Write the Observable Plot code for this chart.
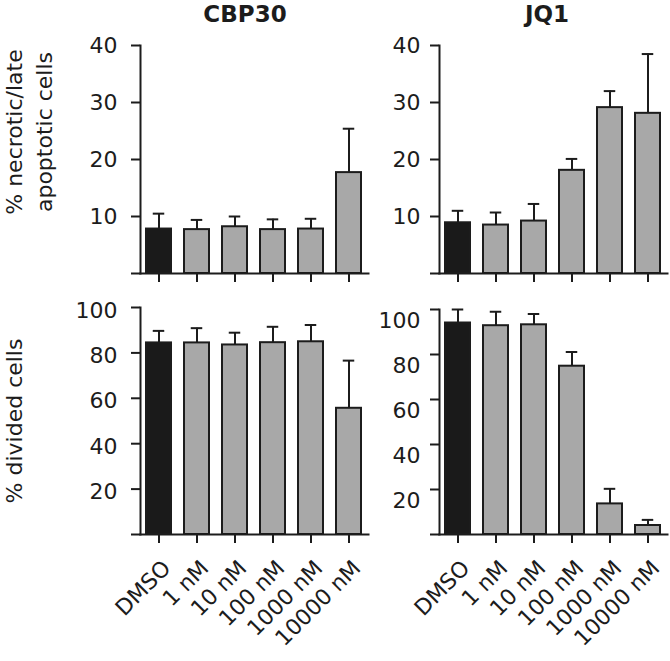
<!DOCTYPE html>
<html>
<head>
<meta charset="utf-8">
<script src="https://cdn.jsdelivr.net/npm/d3@7"></script>
<script src="https://cdn.jsdelivr.net/npm/@observablehq/plot@0.6"></script>
<style>
  body { margin: 0; background: #ffffff; }
  #chart { position: relative; width: 670px; height: 661px; font-family: "DejaVu Sans", sans-serif; }
  #chart svg { position: absolute; left: 0; top: 0; }
</style>
</head>
<body>
<div id="chart"></div>
<script>
// ---- data ----
const categories = ["DMSO", "1 nM", "10 nM", "100 nM", "1000 nM", "10000 nM"];

// % necrotic / late apoptotic cells (mean, upper SEM)
const cbp30Necrotic    = [7.8, 7.7, 8.2, 7.7, 7.8, 17.7];
const cbp30NecroticSem = [2.7, 1.7, 1.8, 1.8, 1.8, 7.7];
const jq1Necrotic      = [8.9, 8.5, 9.2, 18.1, 29.1, 28.1];
const jq1NecroticSem   = [2.1, 2.2, 3.0, 2.0, 2.9, 10.4];

// % divided cells (mean, upper SEM)
const cbp30Divided    = [84.4, 84.4, 83.5, 84.5, 84.9, 55.6];
const cbp30DividedSem = [5.3, 6.5, 5.4, 7.0, 7.4, 21.0];
const jq1Divided      = [94.0, 92.8, 93.2, 74.8, 13.6, 4.0];
const jq1DividedSem   = [6.0, 6.2, 4.8, 6.3, 6.7, 2.5];

const necroticTicks = [0, 10, 20, 30, 40];
const dividedTicks  = [0, 20, 40, 60, 80, 100];

const panelTitles = ["CBP30", "JQ1"];
const yTitleTop = ["% necrotic/late", "apoptotic cells"];
const yTitleBottom = "% divided cells";

// ---- drawing ----
const W = 670, H = 661;
const INK = "#1c1c1c", CONTROL = "#1a1a1a", GREY = "#a8a8a8";

function panel({values, sem, ticks, xLeft, xRight, top, bottom, tickPadding, labelDy, showLabels}) {
  const data = categories.map((c, i) => ({cat: c, value: values[i], upper: values[i] + sem[i], fill: i === 0 ? CONTROL : GREY}));
  return Plot.plot({
    width: W, height: H,
    marginLeft: xLeft, marginRight: W - xRight,
    marginTop: top, marginBottom: H - bottom,
    style: {background: "transparent", fontFamily: "DejaVu Sans, sans-serif", fontSize: "22px", color: INK, overflow: "visible"},
    x: {domain: categories, range: [xLeft, xRight], paddingInner: 0.33, paddingOuter: 0.165, axis: null},
    y: {domain: [ticks[0], ticks[ticks.length - 1]], axis: null},
    color: {type: "identity"},
    marks: [
      Plot.ruleX(data, {x: "cat", y1: "value", y2: "upper", stroke: INK, strokeWidth: 2}),
      Plot.tickY(data, {x: "cat", y: "upper", stroke: INK, strokeWidth: 2, insetLeft: 6.75, insetRight: 6.75}),
      Plot.barY(data, {x: "cat", y: "value", fill: "fill", stroke: INK, strokeWidth: 2}),
      Plot.frame({anchor: "left", stroke: INK, strokeWidth: 2}),
      Plot.frame({anchor: "bottom", stroke: INK, strokeWidth: 2}),
      // y tick marks
      Plot.axisY({ticks, tickSize: 9, strokeWidth: 2, text: null, label: null}),
      // y tick labels (offset as in the reference)
      Plot.axisY({ticks: ticks.filter(d => d !== 0), tickSize: 0, tickPadding: tickPadding + 9,
        fontSize: 22, dy: labelDy, label: null}),
      // x tick marks
      Plot.axisX({tickSize: 9, strokeWidth: 2, label: null, text: null}),
      ...(showLabels ? [Plot.axisX({tickSize: 0, fontSize: 22, label: null,
        tickRotate: -45, tickPadding: 4, dx: 8, dy: 26})] : [])
    ]
  });
}

const chart = document.getElementById("chart");

chart.append(panel({values: cbp30Necrotic, sem: cbp30NecroticSem, ticks: necroticTicks,
  xLeft: 140, xRight: 368, top: 45, bottom: 273, tickPadding: 14, labelDy: 0, showLabels: false}));
chart.append(panel({values: jq1Necrotic, sem: jq1NecroticSem, ticks: necroticTicks,
  xLeft: 439, xRight: 667, top: 45, bottom: 273, tickPadding: 10, labelDy: 0, showLabels: false}));
chart.append(panel({values: cbp30Divided, sem: cbp30DividedSem, ticks: dividedTicks,
  xLeft: 140, xRight: 368, top: 307, bottom: 534, tickPadding: 14, labelDy: 3, showLabels: true}));
chart.append(panel({values: jq1Divided, sem: jq1DividedSem, ticks: dividedTicks,
  xLeft: 439, xRight: 667, top: 309, bottom: 534, tickPadding: 10, labelDy: 11, showLabels: true}));

// titles and y-axis titles
const svg = d3.create("svg").attr("width", W).attr("height", H)
  .style("font-family", "DejaVu Sans, sans-serif").style("overflow", "visible");
svg.append("text").attr("x", 245).attr("y", 22).attr("text-anchor", "middle")
  .attr("font-weight", "bold").attr("font-size", 23).attr("fill", INK).text(panelTitles[0]);
svg.append("text").attr("x", 547).attr("y", 22).attr("text-anchor", "middle")
  .attr("font-weight", "bold").attr("font-size", 23).attr("fill", INK).text(panelTitles[1]);
svg.append("text").attr("transform", "translate(22,132) rotate(-90)").attr("text-anchor", "middle")
  .attr("font-size", 22).attr("fill", INK).text(yTitleTop[0]);
svg.append("text").attr("transform", "translate(52,132) rotate(-90)").attr("text-anchor", "middle")
  .attr("font-size", 22).attr("fill", INK).text(yTitleTop[1]);
svg.append("text").attr("transform", "translate(22,421) rotate(-90)").attr("text-anchor", "middle")
  .attr("font-size", 22).attr("fill", INK).text(yTitleBottom);
chart.append(svg.node());
</script>
</body>
</html>
